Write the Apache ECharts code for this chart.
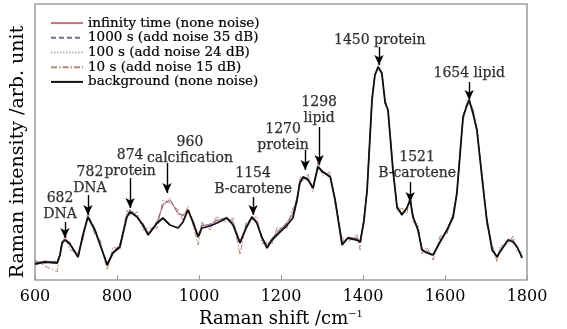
<!DOCTYPE html>
<html>
<head>
<meta charset="utf-8">
<script src="https://cdn.jsdelivr.net/npm/echarts@6/dist/echarts.min.js"></script>
<style>html,body{margin:0;padding:0;background:#fff;}#c{width:567px;height:329px;}</style>
</head>
<body>
<div id="c"></div>
<script>
// Raman shift grid (cm^-1)
const shifts = [600,624,654,661,666,673,685,705,717,729,746,759,776,790,807,824,832,849,863,876,898,912,929,949,961,973,985,998,1007,1027,1044,1068,1083,1100,1115,1129,1141,1154,1166,1178,1190,1215,1229,1239,1246,1254,1266,1278,1290,1302,1320,1332,1349,1363,1385,1393,1402,1410,1422,1429,1437,1446,1454,1461,1473,1483,1495,1507,1515,1522,1534,1544,1556,1571,1588,1605,1620,1629,1637,1644,1654,1659,1668,1678,1690,1702,1715,1727,1734,1754,1766,1776,1788];
// intensities (arb. unit)
const infinityTime = [17,19,18,26,38,41,37,24,46,64,51,36,16,28,35,64,70,64,56,47,58,75,80,67,64,71,59,45,54,56,59,63,57,39,53,64,58,43,34,42,47,58,66,82,98,104,101,93,114,109,104,81,37,43,41,39,59,91,181,206,213,207,178,171,111,74,66,73,81,64,51,31,28,26,39,51,64,88,128,164,176,180,168,151,104,61,31,24,29,41,39,34,23];
const noise1000s = [18,17,19,25,39,40,38,22,47,63,52,35,17,27,36,63,71,63,57,46,59,74,81,66,65,70,60,44,55,55,60,62,58,38,54,63,59,42,35,41,48,57,67,81,99,103,102,92,115,108,105,80,38,42,42,38,60,90,182,205,212,206,179,170,112,73,67,72,82,63,52,30,29,25,40,50,65,87,129,163,177,179,169,150,105,60,32,23,30,40,40,33,24];
const noise100s = [15,19,16,27,36,42,35,25,44,65,49,37,14,29,34,65,69,65,54,48,56,76,82,65,66,69,61,43,56,54,61,61,59,36,55,62,60,41,36,40,49,56,68,80,100,102,103,91,116,107,106,79,39,41,43,37,61,89,183,204,214,205,180,169,113,72,68,71,83,62,53,29,30,24,41,49,66,86,130,162,178,178,170,149,106,59,33,22,31,39,41,32,25];
const noise10s = [20,14,8,28,33,46,30,27,40,68,45,40,10,33,30,70,64,68,50,52,52,80,77,70,60,74,56,35,58,50,64,57,62,25,58,60,64,36,38,36,52,52,72,76,103,99,106,88,118,104,108,76,42,38,46,30,64,86,185,202,216,203,183,166,116,68,72,66,86,58,56,26,33,20,44,46,69,84,133,158,181,175,173,146,110,55,36,18,34,36,44,28,28];
const background = [16,18,17,25,37,40,36,23,45,63,50,35,15,27,33,63,68,63,55,45,57,62,55,52,58,70,58,43,52,54,57,62,55,37,52,63,57,42,32,40,45,55,62,80,97,103,100,92,113,108,103,80,35,42,40,38,58,90,180,205,213,207,177,170,110,73,65,72,80,63,50,30,27,25,38,50,63,87,127,163,175,180,167,150,103,60,30,23,28,40,38,33,22];

const seriesNames = ['infinity time (none noise)','1000 s (add noise 35 dB)','100 s (add noise 24 dB)','10 s (add noise 15 dB)','background (none noise)'];
const xTicks = [600,800,1000,1200,1400,1600,1800];

// peak annotations
const annoText = ['682\nDNA','782\nDNA','874\nprotein','960\ncalcification','1154\nB-carotene','1270\nprotein','1298\nlipid','1450 protein','1521\nB-carotene','1654 lipid'];
const annoLabelX = [661,734,832,978,1132,1205,1293,1441,1532,1659];
const annoLabelY = [74,100,117,130,99,143,170,240,115,207];
const arrowX = [673,729,832,922,1132,1259,1293,1439,1515,1659];
const arrowTop = [58,85,102,117,83,130,153,233,98,198];
const arrowTip = [42,65,72,87,65,110,115,215,78,180];

const FONT = 'DejaVu Serif';
const pair = arr => shifts.map((s, i) => [s, arr[i]]);

const lineSeries = (name, arr, color, type, width, z) => ({
  name, type: 'line', data: pair(arr), symbol: 'none', showSymbol: false,
  smooth: false, z, lineStyle: { color, type, width }, itemStyle: { color }
});

const chart = echarts.init(document.getElementById('c'), null, { renderer: 'canvas' });
chart.setOption({
  animation: false,
  backgroundColor: '#fff',
  grid: { left: 35, right: 40, top: 4, bottom: 49, show: true, borderColor: '#a0a0a0', borderWidth: 1.6,
          containLabel: false, outerBoundsMode: 'none' },
  legend: {
    data: seriesNames, orient: 'vertical', left: 45, top: 11, itemWidth: 32, itemHeight: 10, itemGap: 0.5,
    itemStyle: { opacity: 0 },
    textStyle: { fontFamily: FONT, fontSize: 13.5, color: '#000', lineHeight: 13.5, textBorderColor: '#000', textBorderWidth: 0.2 }
  },
  xAxis: {
    type: 'value', min: 600, max: 1800, interval: 200,
    name: 'Raman shift /cm{sup|−1}', nameLocation: 'middle', nameGap: 26,
    nameTextStyle: { fontFamily: FONT, fontSize: 18, color: '#000',
      rich: { sup: { fontFamily: FONT, fontSize: 10, verticalAlign: 'top', color: '#000', padding: [0,0,8,0] } } },
    axisLine: { show: false },
    axisTick: { show: true, inside: true, length: 5, lineStyle: { color: '#999', width: 1 } },
    axisLabel: { fontFamily: FONT, fontSize: 16, color: '#000', margin: 9, formatter: v => String(v) },
    splitLine: { show: false }
  },
  yAxis: {
    type: 'value', min: 0, max: 276,
    name: 'Raman intensity /arb. unit', nameLocation: 'middle', nameGap: 7,
    nameTextStyle: { fontFamily: FONT, fontSize: 19, color: '#000', padding: [0, 20, 0, 0] },
    axisLine: { show: false }, axisTick: { show: false }, axisLabel: { show: false }, splitLine: { show: false }
  },
  series: [
    lineSeries(seriesNames[0], infinityTime, '#c8707c', 'solid', 1, 3),
    lineSeries(seriesNames[1], noise1000s, '#6b6a9c', [5, 3], 1, 4),
    lineSeries(seriesNames[2], noise100s, '#b5b5b5', [1.5, 1.5], 1, 2),
    lineSeries(seriesNames[3], noise10s, '#b48a78', [6, 2, 1.5, 2], 1, 1),
    lineSeries(seriesNames[4], background, '#111', 'solid', 1.8, 5),
    {
      name: 'annotations', type: 'scatter', symbolSize: 0, z: 10,
      data: annoText.map((t, i) => ({ value: [annoLabelX[i], annoLabelY[i]], name: t })),
      label: { show: true, position: 'inside', formatter: p => p.name, fontFamily: FONT, fontSize: 14, lineHeight: 16, color: '#000', textBorderColor: '#000', textBorderWidth: 0.25 },
      markLine: {
        silent: true, symbol: ['none', 'arrow'], symbolSize: [7, 10],
        lineStyle: { color: '#000', width: 1.4, type: 'solid' }, label: { show: false },
        data: arrowX.map((x, i) => [{ coord: [x, arrowTop[i]] }, { coord: [x, arrowTip[i]] }])
      }
    }
  ]
});
</script>
</body>
</html>
